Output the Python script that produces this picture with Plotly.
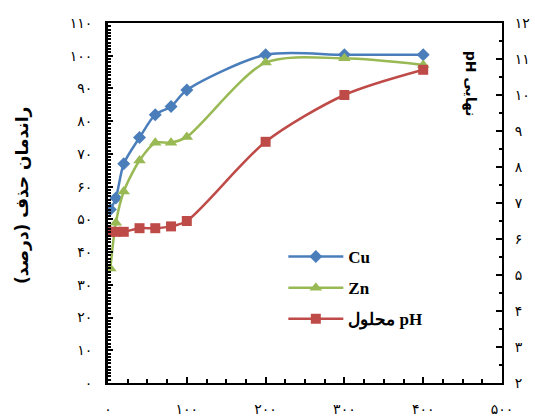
import plotly.graph_objects as go

# ---- data ----
time_x = [3, 10, 20, 40, 60, 80, 100, 200, 300, 400]
cu_removal = [53, 56.5, 67, 75, 82, 84.5, 89.5, 100.3, 100.3, 100.3]
zn_removal = [35, 49, 58.5, 68, 73.4, 73.4, 75.2, 97.9, 99.2, 97.2]
solution_ph = [6.2, 6.2, 6.2, 6.3, 6.3, 6.35, 6.5, 8.7, 10.0, 10.7]

x_tickvals = [0, 100, 200, 300, 400, 500]
x_ticktext = ["۰", "۱۰۰", "۲۰۰", "۳۰۰", "۴۰۰", "۵۰۰"]
y_tickvals = list(range(0, 111, 10))
y_ticktext = ["۰", "۱۰", "۲۰", "۳۰", "۴۰", "۵۰", "۶۰", "۷۰", "۸۰", "۹۰", "۱۰۰", "۱۱۰"]
y2_tickvals = list(range(2, 13))
y2_ticktext = ["۲", "۳", "۴", "۵", "۶", "۷", "۸", "۹", "۱۰", "۱۱", "۱۲"]

series_names = ["Cu", "Zn", "محلول pH"]
left_title = "\u200fراندمان حذف (درصد)\u200f"
right_title = "pH نهایی"

BLUE = "#4A7EBB"
GREEN = "#98B954"
RED = "#BE4B48"

fig = go.Figure()
fig.add_trace(go.Scatter(
    x=time_x, y=cu_removal, name=series_names[0], legendgroup="a",
    mode="lines+markers",
    line=dict(color=BLUE, width=2.5, shape="spline", smoothing=0.8),
    marker=dict(symbol="diamond", size=10, color=BLUE),
))
fig.add_trace(go.Scatter(
    x=time_x, y=zn_removal, name=series_names[1], legendgroup="b",
    mode="lines+markers",
    line=dict(color=GREEN, width=2.5, shape="spline", smoothing=0.8),
    marker=dict(symbol="triangle-up", size=11, color=GREEN),
))
fig.add_trace(go.Scatter(
    x=time_x, y=solution_ph, name=series_names[2], legendgroup="c",
    mode="lines+markers", yaxis="y2",
    line=dict(color=RED, width=2.5, shape="spline", smoothing=0.8),
    marker=dict(symbol="square", size=10, color=RED),
))

tickfont = dict(family="DejaVu Sans", size=14, color="black")

fig.update_layout(
    width=535, height=417,
    margin=dict(l=108, r=33, t=23, b=34, autoexpand=False),
    paper_bgcolor="white", plot_bgcolor="white",
    showlegend=True,
    legend=dict(
        x=0.445, y=0.40, xanchor="left", yanchor="top",
        font=dict(family="Liberation Serif", size=17, color="black", weight="bold"),
        bgcolor="rgba(0,0,0,0)", tracegroupgap=6, itemwidth=55,
    ),
    xaxis=dict(
        range=[0, 500], tickvals=x_tickvals, ticktext=x_ticktext,
        showline=True, linecolor="black", linewidth=2, mirror=True,
        ticks="inside", ticklen=6, tickcolor="black", tickwidth=1.5,
        minor=dict(dtick=25, ticks="inside", ticklen=4, tickcolor="black"),
        showgrid=False, zeroline=False, tickfont=tickfont,
        ticklabelstandoff=12, automargin=False,
    ),
    yaxis=dict(
        range=[0, 110], tickvals=y_tickvals, ticktext=y_ticktext,
        showline=True, linecolor="black", linewidth=3,
        ticks="inside", ticklen=5, tickcolor="black", tickwidth=1.5,
        minor=dict(dtick=1, ticks="inside", ticklen=3, tickcolor="black"),
        showgrid=False, zeroline=False, tickfont=tickfont,
        ticklabelstandoff=10, automargin=False,
    ),
    yaxis2=dict(
        range=[2, 12], tickvals=y2_tickvals, ticktext=y2_ticktext,
        overlaying="y", side="right",
        showline=True, linecolor="black", linewidth=2,
        ticks="inside", ticklen=6, tickcolor="black", tickwidth=1.5,
        minor=dict(dtick=0.5, ticks="inside", ticklen=3, tickcolor="black"),
        showgrid=False, zeroline=False, tickfont=tickfont,
        ticklabelstandoff=8, automargin=False,
    ),
    annotations=[
        dict(text=left_title, textangle=-90, xref="paper", yref="paper",
             x=-0.218, y=0.52, xanchor="center", yanchor="middle", showarrow=False,
             font=dict(family="DejaVu Sans", size=17, color="black", weight="bold")),
        dict(text=right_title, textangle=90, xref="paper", yref="paper",
             x=0.92, y=0.83, xanchor="center", yanchor="middle", showarrow=False,
             font=dict(family="DejaVu Sans", size=14, color="black", weight="bold")),
    ],
)

fig.write_html("out.html", config={"displayModeBar": False},
               post_script="document.body.style.margin='0';")
